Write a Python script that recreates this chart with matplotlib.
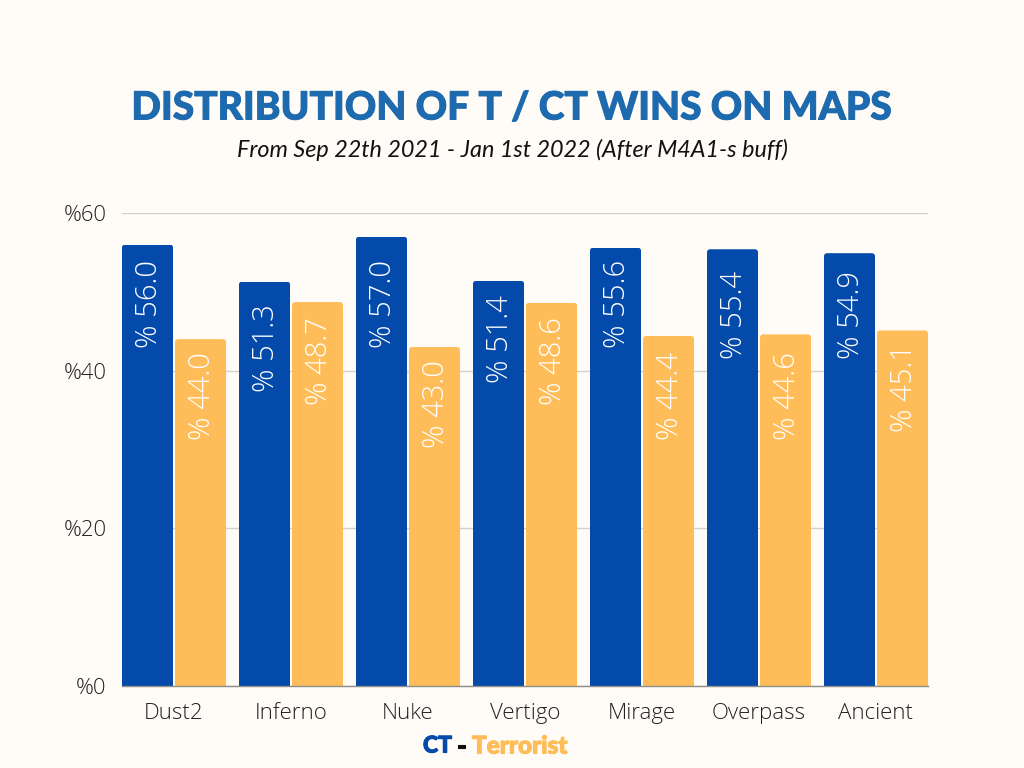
import numpy as np
import matplotlib
matplotlib.use("Agg")
import matplotlib.pyplot as plt
import matplotlib.patheffects as pe
from matplotlib.patches import FancyBboxPatch

maps = ["Dust2", "Inferno", "Nuke", "Vertigo", "Mirage", "Overpass", "Ancient"]
ct = [56.0, 51.3, 57.0, 51.4, 55.6, 55.4, 54.9]
terrorist = [44.0, 48.7, 43.0, 48.6, 44.4, 44.6, 45.1]
y_ticks = [0, 20, 40, 60]
y_labels = ["%0", "%20", "%40", "%60"]

# Height of each value label's lower end above the baseline, in pixels (style, not data)
ct_label_lift = [338, 294, 338, 303, 338, 327, 327]
t_label_lift = [246, 281, 238, 281, 246, 246, 254]

BG = "#FFFBF6"
BLUE = "#034AAB"
ORANGE = "#FFBD59"
TITLE = "#1D6AAE"
W, H = 1024, 768
PT = 0.72  # points per pixel at dpi 100

fig = plt.figure(figsize=(W / 100, H / 100), dpi=100, facecolor=BG)
L, R, T, B = 122, 928, 213, 686
ax = fig.add_axes([L / W, 1 - B / H, (R - L) / W, (B - T) / H], facecolor=BG)
ax.set_xlim(-52 / 117, 6 + 52 / 117)
ax.set_ylim(0, 60)

px_x = 1 / 117
px_y = 60 / (B - T)
bw = 51 * px_x
off = 26.5 * px_x
x = np.arange(len(maps))


def rounded(rect):
    """Round the top corners of a bar by clipping it to a rounded box."""
    r = 3 * px_x
    clip = FancyBboxPatch((rect.get_x(), -10), rect.get_width(), rect.get_height() + 10,
                          boxstyle=f"round,pad=0,rounding_size={r}",
                          mutation_aspect=px_y / px_x, transform=ax.transData)
    rect.set_clip_path(clip)


for pos, vals, lifts, col in [(x - off, ct, ct_label_lift, BLUE), (x + off, terrorist, t_label_lift, ORANGE)]:
    bars = ax.bar(pos, vals, width=bw, color=col, zorder=3, linewidth=0)
    for b in bars:
        rounded(b)
    for xp, v, lift in zip(pos, vals, lifts):
        ax.annotate(f"% {v:.1f}", (xp, 0), xytext=(1.5, lift * PT), textcoords="offset points",
                    rotation=90, ha="center", va="bottom", color="white", fontsize=21,
                    family="Open Sans", fontweight=300, zorder=4)

ax.set_yticks(y_ticks, y_labels, fontsize=15.8, family="Open Sans", fontweight=300, color="#222222")
ax.set_xticks(x, maps, fontsize=16, family="Open Sans", fontweight=300, color="#222222")
ax.tick_params(axis="both", length=0)
ax.tick_params(axis="x", pad=12.5)
ax.tick_params(axis="y", pad=11)
ax.yaxis.grid(True, color="#D3D1CC", linewidth=1.0, zorder=0)
ax.set_axisbelow(True)
for s in ["top", "right", "left"]:
    ax.spines[s].set_visible(False)
ax.spines["bottom"].set_color("#8E8E8C")
ax.spines["bottom"].set_linewidth(1.0)
ax.spines["bottom"].set_zorder(5)

heavy = lambda w, c: [pe.withStroke(linewidth=w, foreground=c)]

fig.text(512 / W, 1 - 108 / H, "DISTRIBUTION OF T / CT WINS ON MAPS", ha="center", va="center",
         fontsize=28, family="Lato", fontweight="black", color=TITLE,
         path_effects=heavy(0.7, TITLE))
fig.text(512 / W, 1 - 150 / H, "From Sep 22th 2021 - Jan 1st 2022 (After M4A1-s buff)", ha="center", va="center",
         fontsize=16.8, family="Lato", style="italic", color="#111111")

leg_y = 1 - 746 / H
fig.text(423 / W, leg_y, "CT", ha="left", va="center", fontsize=16.5, family="Lato", fontweight="black",
         color=BLUE, path_effects=heavy(0.8, BLUE))
fig.text(457 / W, leg_y, "-", ha="left", va="center", fontsize=17.5, family="Lato", fontweight="black",
         color="#111111", path_effects=heavy(0.8, "#111111"))
fig.text(472 / W, leg_y, "Terrorist", ha="left", va="center", fontsize=17.5, family="Lato", fontweight="black",
         color=ORANGE, path_effects=heavy(0.8, ORANGE))

fig.savefig("out.png", dpi=100, facecolor=BG)
